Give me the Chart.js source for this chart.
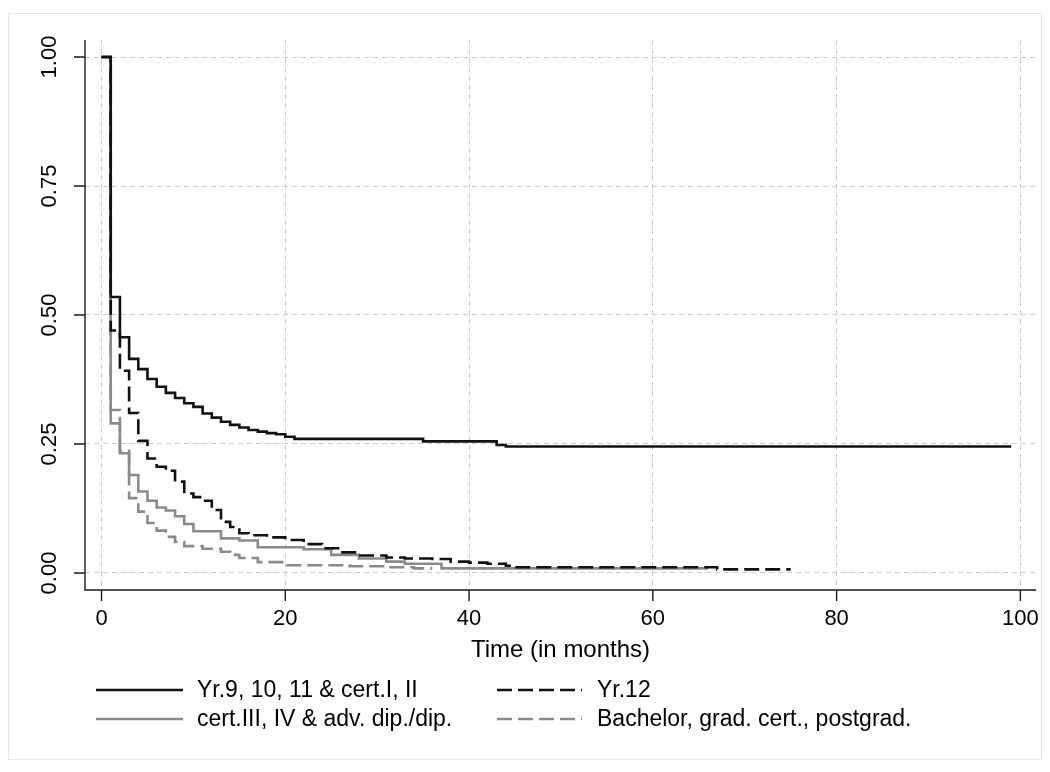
<!DOCTYPE html>
<html><head><meta charset="utf-8">
<script src="https://cdn.jsdelivr.net/npm/chart.js@4.4.0/dist/chart.umd.min.js"></script>
<style>html,body{margin:0;padding:0;background:#fff;}#wrap{width:1050px;height:772px;}</style>
</head><body><div id="wrap"><canvas id="c" width="1050" height="772"></canvas></div>
<script>
// ---- data ----
const yr9Months  = [0,1,2,3,4,5,6,7,8,9,10,11,12,13,14,15,16,17,18,19,20,21,35,43,44,99];
const yr9Surv    = [1.000,0.535,0.457,0.415,0.395,0.376,0.361,0.349,0.339,0.329,0.322,0.309,0.301,0.293,0.287,0.282,0.277,0.274,0.271,0.269,0.264,0.260,0.255,0.248,0.245,0.245];

const yr12Months = [0,1,2,3,4,5,6,7,8,9,10,11,12,13,14,15,16,18,20,22,24,26,28,31,33,36,38,40,42,44,45,67,75];
const yr12Surv   = [1.000,0.470,0.392,0.310,0.256,0.222,0.206,0.198,0.177,0.154,0.147,0.140,0.122,0.099,0.089,0.077,0.073,0.069,0.064,0.056,0.048,0.040,0.034,0.030,0.028,0.027,0.022,0.020,0.018,0.014,0.011,0.007,0.007];

const cert3Months = [0,1,2,3,4,5,6,7,8,9,10,13,15,17,22,25,28,31,33,37,66];
const cert3Surv   = [1.000,0.290,0.232,0.190,0.158,0.140,0.127,0.121,0.110,0.095,0.081,0.067,0.063,0.050,0.046,0.035,0.028,0.022,0.018,0.009,0.009];

const bachMonths = [0,1,2,3,4,5,6,7,8,9,11,13,14,15,17,20,27,31,34,36];
const bachSurv   = [1.000,0.316,0.237,0.145,0.119,0.097,0.082,0.070,0.060,0.052,0.047,0.041,0.035,0.029,0.021,0.015,0.013,0.011,0.009,0.009];

const seriesLabels = ['Yr.9, 10, 11 & cert.I, II','Yr.12','cert.III, IV & adv. dip./dip.','Bachelor, grad. cert., postgrad.'];
const xTickValues = [0,20,40,60,80,100];
const yTickValues = [0,0.25,0.5,0.75,1];
const xAxisTitle = 'Time (in months)';

// ---- build ----
const pts = (xs, ys) => xs.map((x, i) => ({x, y: ys[i]}));
const FONT = "'Liberation Sans', Arial, Helvetica, sans-serif";
const BLACK = '#111111', GRAY = '#8a8a8a';

const datasets = [
  {label: seriesLabels[0], data: pts(yr9Months, yr9Surv), borderColor: BLACK, borderDash: []},
  {label: seriesLabels[1], data: pts(yr12Months, yr12Surv), borderColor: BLACK, borderDash: [15,6]},
  {label: seriesLabels[2], data: pts(cert3Months, cert3Surv), borderColor: GRAY, borderDash: []},
  {label: seriesLabels[3], data: pts(bachMonths, bachSurv), borderColor: GRAY, borderDash: [15,6]}
].map(d => Object.assign(d, {stepped: 'before', pointRadius: 0, borderWidth: 2.6, fill: false, tension: 0, borderCapStyle: 'butt'}));

const framePlugin = {
  id: 'frame',
  beforeDraw(chart) {
    const ctx = chart.ctx;
    ctx.save();
    ctx.fillStyle = '#ffffff';
    ctx.fillRect(0, 0, chart.width, chart.height);
    ctx.strokeStyle = '#e2eaee';
    ctx.lineWidth = 1;
    ctx.strokeRect(8.5, 13.5, chart.width - 17, chart.height - 26);
    ctx.restore();
  }
};

const axesPlugin = {
  id: 'axesLines',
  afterDatasetsDraw(chart) {
    const {ctx, chartArea: a, scales: {x, y}} = chart;
    ctx.save();
    ctx.strokeStyle = '#1a1a1a';
    ctx.lineWidth = 1.4;
    ctx.setLineDash([]);
    ctx.beginPath();
    ctx.moveTo(a.left, a.top);
    ctx.lineTo(a.left, a.bottom);
    ctx.lineTo(a.right, a.bottom);
    ctx.stroke();
    ctx.beginPath();
    x.ticks.forEach(t => { const p = x.getPixelForValue(t.value); ctx.moveTo(p, a.bottom); ctx.lineTo(p, a.bottom + 11); });
    y.ticks.forEach(t => { const p = y.getPixelForValue(t.value); ctx.moveTo(a.left - 11, p); ctx.lineTo(a.left, p); });
    ctx.stroke();
    ctx.restore();
  }
};

const legendPlugin = {
  id: 'stataLegend',
  afterDraw(chart) {
    const ctx = chart.ctx;
    const cols = [{x0: 96, x1: 183, tx: 197}, {x0: 497, x1: 582, tx: 597}];
    const rows = [690, 719];
    ctx.save();
    ctx.font = '23px ' + FONT;
    ctx.textBaseline = 'middle';
    ctx.textAlign = 'left';
    chart.data.datasets.forEach((ds, i) => {
      const c = cols[i % 2], yy = rows[Math.floor(i / 2)];
      ctx.strokeStyle = ds.borderColor;
      ctx.lineWidth = ds.borderWidth;
      ctx.setLineDash(ds.borderDash);
      ctx.beginPath();
      ctx.moveTo(c.x0, yy);
      ctx.lineTo(c.x1, yy);
      ctx.stroke();
      ctx.setLineDash([]);
      ctx.fillStyle = '#000';
      ctx.fillText(ds.label, c.tx, yy + 1);
    });
    ctx.restore();
  }
};

new Chart(document.getElementById('c'), {
  type: 'line',
  data: {datasets},
  options: {
    responsive: false,
    animation: false,
    devicePixelRatio: 1,
    layout: {padding: {top: 40, right: 14, left: 0, bottom: 107}},
    plugins: {legend: {display: false}, tooltip: {enabled: false}},
    scales: {
      x: {
        type: 'linear', min: -1.8, max: 101.7,
        afterBuildTicks: s => { s.ticks = xTickValues.map(v => ({value: v})); },
        afterFit: s => { s.height = 75; s.paddingLeft = 0; s.paddingRight = 0; },
        ticks: {font: {family: FONT, size: 22}, color: '#000', padding: 16, maxRotation: 0, autoSkip: false},
        grid: {color: '#cccccc', lineWidth: 1, drawTicks: false, borderDash: [5,4]},
        border: {display: false, dash: [5,4]},
        title: {display: true, text: xAxisTitle, font: {family: FONT, size: 24}, color: '#000', padding: {top: 0, bottom: 0}}
      },
      y: {
        type: 'linear', min: -0.033, max: 1.033,
        afterBuildTicks: s => { s.ticks = yTickValues.map(v => ({value: v})); },
        afterFit: s => { s.width = 85; s.paddingTop = 0; s.paddingBottom = 0; },
        ticks: {font: {family: FONT, size: 22}, color: '#000', padding: 14, minRotation: 90, maxRotation: 90, crossAlign: 'center', autoSkip: false,
                callback: v => Number(v).toFixed(2)},
        grid: {color: '#cccccc', lineWidth: 1, drawTicks: false, borderDash: [5,4]},
        border: {display: false, dash: [5,4]}
      }
    }
  },
  plugins: [framePlugin, axesPlugin, legendPlugin]
});
</script></body></html>
